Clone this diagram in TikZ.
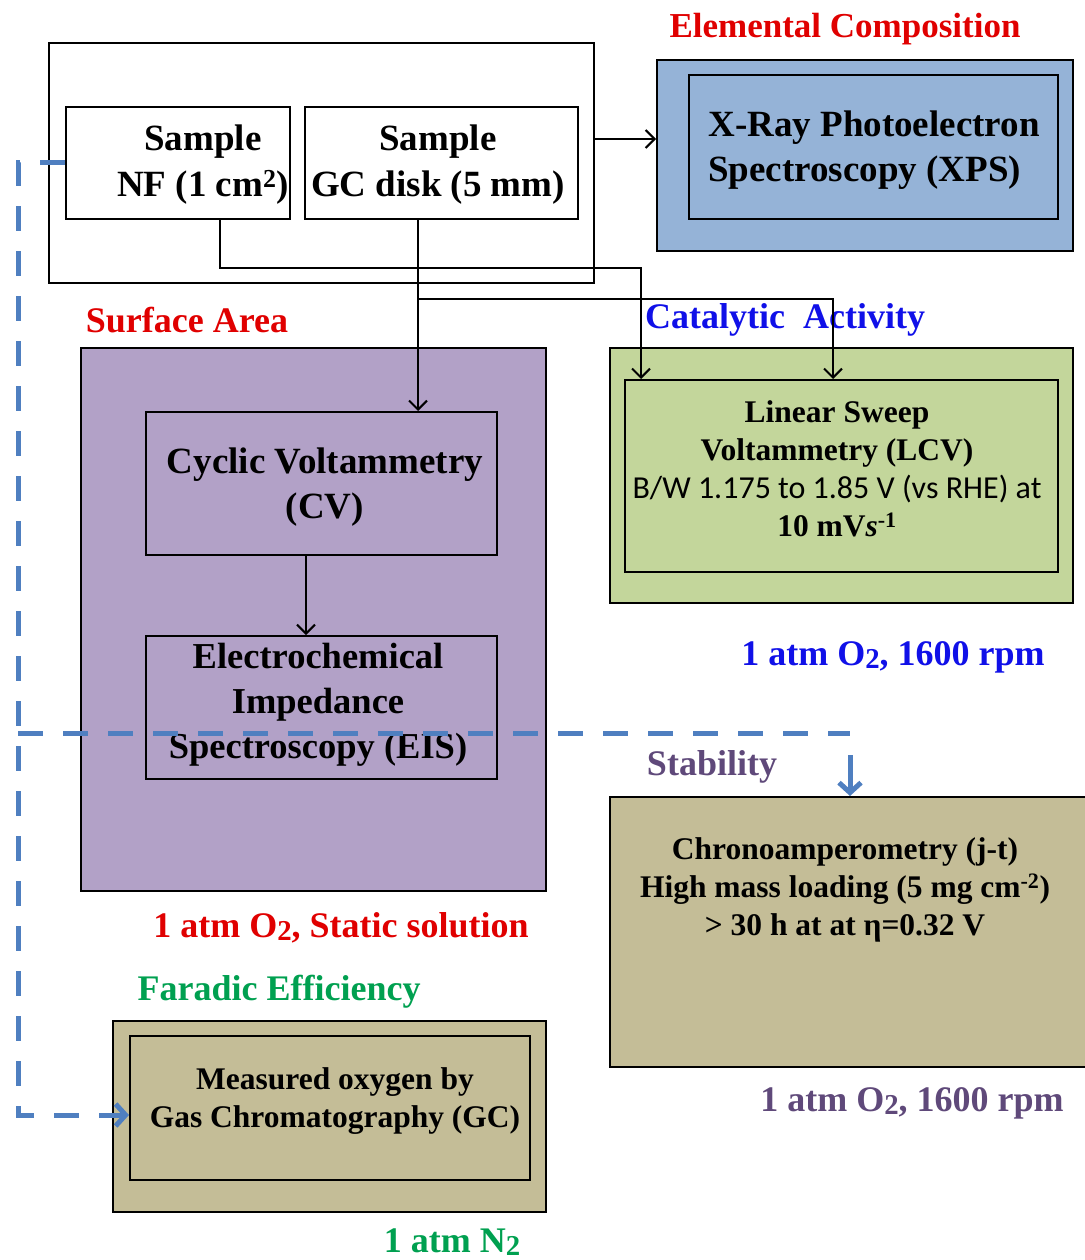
\documentclass[tikz,border=0pt]{standalone}
\usepackage{fontspec}
\usepackage{graphicx}
\setmainfont{Liberation Serif}
\newfontfamily\carlfont{Carlito}
\usetikzlibrary{arrows.meta}
\definecolor{xpsblue}{HTML}{95B3D7}
\definecolor{purp}{HTML}{B2A1C7}
\definecolor{lgreen}{HTML}{C3D69B}
\definecolor{tan}{HTML}{C4BD97}
\definecolor{redtxt}{HTML}{E00000}
\definecolor{bluetxt}{HTML}{1010E8}
\definecolor{greentxt}{HTML}{00A050}
\definecolor{purptxt}{HTML}{5F497A}
\definecolor{dashblue}{HTML}{4F7FC0}
\newcommand{\subtwo}{\raisebox{-0.08em}{\scalebox{0.8}{2}}}
\tikzset{
  box/.style={draw=black, line width=2pt, inner sep=0pt},
  lbl/.style={font=\bfseries\fontsize{36}{40}\selectfont, inner sep=0pt},
  arr/.style={draw=black, line width=2pt, -{Straight Barb[length=9pt,width=18pt,line width=2pt]}},
  dashb/.style={draw=dashblue, line width=5pt, dash pattern=on 25pt off 20pt},
  bluearr/.style={draw=dashblue, line width=5pt, -{Straight Barb[length=10pt,width=22pt,line width=5pt]}},
}
\begin{document}
\begin{tikzpicture}[x=1pt,y=-1pt]
\useasboundingbox (0,0) rectangle (1084,1260);
% top sample area
\node[box, fill=white, minimum width=545pt, minimum height=240pt] (outer) at (321.5,163) {};
\node[box, minimum width=224pt, minimum height=112pt] (nf) at (178,163) {};
\node[box, minimum width=273pt, minimum height=112pt] (gc) at (441.5,163) {};
\node[font=\bfseries\fontsize{37}{46}\selectfont, align=center, inner sep=0pt] (nft) at (203,165) {Sample\\NF (1 cm\textsuperscript{2})};
\node[font=\bfseries\fontsize{37}{46}\selectfont, align=center, inner sep=0pt] (gct) at (438,165) {Sample\\GC disk (5 mm)};
% XPS
\node[lbl, font=\bfseries\fontsize{35}{40}\selectfont, text=redtxt] (elab) at (845,29) {Elemental Composition};
\node[box, fill=xpsblue, minimum width=416pt, minimum height=191pt] (xpsout) at (865,155.5) {};
\node[box, minimum width=369pt, minimum height=144pt] (xpsin) at (873.5,147) {};
\node[font=\bfseries\fontsize{37}{45}\selectfont, align=left, inner sep=0pt] (xpst) at (874,150) {X-Ray Photoelectron\\Spectroscopy (XPS)};
% Surface area
\node[lbl, text=redtxt] (salab) at (187,320) {Surface Area};
\node[box, fill=purp, minimum width=465pt, minimum height=543pt] (saout) at (313.5,619.5) {};
\node[box, minimum width=351pt, minimum height=143pt] (cv) at (321.5,483.5) {};
\node[font=\bfseries\fontsize{37}{45}\selectfont, align=center, inner sep=0pt] (cvt) at (325,487) {Cyclic Voltammetry\\(CV)};
\node[box, minimum width=351pt, minimum height=143pt] (eis) at (321.5,707.5) {};
\node[font=\bfseries\fontsize{36.5}{45}\selectfont, align=center, inner sep=0pt] (eist) at (318,705) {Electrochemical\\Impedance\\Spectroscopy (EIS)};
\node[lbl, text=redtxt] (salow) at (341,928) {1 atm O\subtwo, Static solution};
% Catalytic
\node[lbl, text=bluetxt, anchor=west] (calab) at (645,320) {Catalytic \ Activity};
\node[box, fill=lgreen, minimum width=463pt, minimum height=255pt] (lsvout) at (841.5,475.5) {};
\node[box, minimum width=433pt, minimum height=192pt] (lsvin) at (841.5,476) {};
\node[font=\bfseries\fontsize{31.5}{38}\selectfont, align=center, inner sep=0pt] (lsvt) at (837,469) {Linear Sweep\\Voltammetry (LCV)\\{\carlfont\mdseries\fontsize{32}{38}\selectfont B/W 1.175 to 1.85 V (vs RHE) at}\\10 mV\textit{s}\textsuperscript{-1}};
\node[lbl, text=bluetxt] (calow) at (893,657) {1 atm O\subtwo, 1600 rpm};
% Stability
\node[lbl, text=purptxt] (stlab) at (712,767) {Stability};
\node[box, fill=tan, minimum width=480pt, minimum height=270pt] (chrono) at (850,932) {};
\node[font=\bfseries\fontsize{31.5}{38}\selectfont, align=center, inner sep=0pt] (chrt) at (845,890) {Chronoamperometry (j-t)\\High mass loading (5 mg cm\textsuperscript{-2})\\> 30 h at at η=0.32 V};
\node[lbl, text=purptxt] (stlow) at (912,1103) {1 atm O\subtwo, 1600 rpm};
% Faradic
\node[lbl, text=greentxt] (falab) at (279,992) {Faradic Efficiency};
\node[box, fill=tan, minimum width=433pt, minimum height=191pt] (gcout) at (329.5,1116.5) {};
\node[box, minimum width=400pt, minimum height=144pt] (gcin) at (330,1108) {};
\node[font=\bfseries\fontsize{31.5}{38}\selectfont, align=center, inner sep=0pt] (gcint) at (335,1101) {Measured oxygen by\\Gas Chromatography (GC)};
\node[lbl, text=greentxt] (falow) at (452,1242) {1 atm N\subtwo};
% connectors
\draw[arr] ([yshift=24pt]outer.east) -- ([yshift=16.5pt]xpsout.west);
\draw[arr] ([xshift=42pt]nf.south) -- ++(0,48) -| ([xshift=-200.5pt]lsvin.north);
\draw[arr] ([xshift=-23.5pt]gc.south) -- ([xshift=96.5pt]cv.north);
\draw[arr] ([xshift=-23.5pt]gc.south) ++(0,79) -| ([xshift=-8.5pt]lsvin.north);
\draw[arr] ([xshift=-15.5pt]cv.south) -- ([xshift=-15.5pt]eis.north);
% dashed blue
\coordinate (j1) at (18,733);
\coordinate (j2) at (850,733);
\draw[dashb] (nf.west) -| (18,1115) -- ([xshift=-30pt,yshift=-7pt]gcin.west);
\draw[bluearr] ([xshift=-30pt,yshift=-7pt]gcin.west) -- ([yshift=-7pt]gcin.west);
\draw[dashb] (j1) -- (j2);
\draw[bluearr] ([yshift=-22pt]j2) -- (j2 |- chrono.north);
\end{tikzpicture}
\end{document}
